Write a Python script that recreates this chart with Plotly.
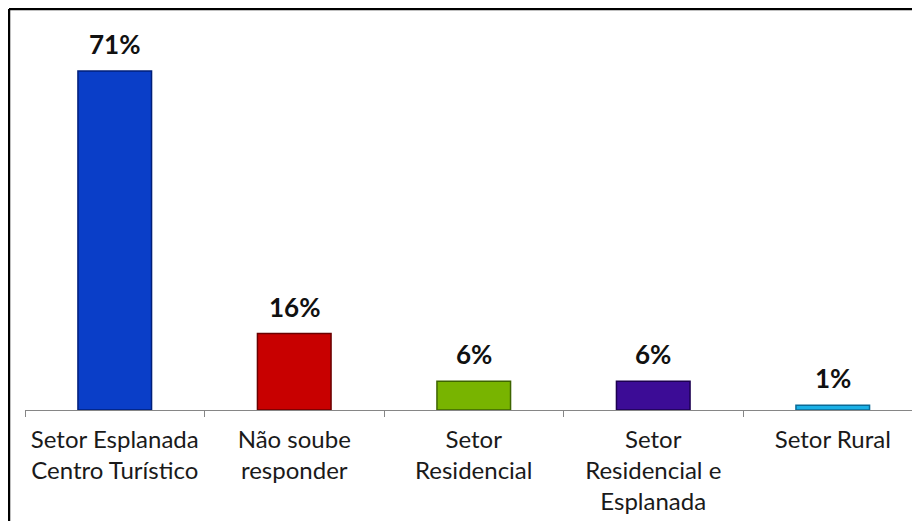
import plotly.graph_objects as go

categories = ["Setor Esplanada<br>Centro Turístico", "Não soube<br>responder", "Setor<br>Residencial",
              "Setor<br>Residencial e<br>Esplanada", "Setor Rural"]
values = [71, 16, 6, 6, 1]
labels = ["71%", "16%", "6%", "6%", "1%"]
fill_colors = ["#0a3ec8", "#c80000", "#78b400", "#3c0c96", "#1ab0e6"]
edge_colors = ["#001f7a", "#6a0000", "#3d6400", "#1c0050", "#0a6a96"]

# page body has an 8px margin; figure sized to fit the 920x521 window
W, H = 904, 513
L, R, T, B = 17, 0, 20, 111
SLOT = 179.5  # px per category in the reference

fig = go.Figure()
fig.add_trace(go.Bar(
    x=categories, y=values,
    marker=dict(color=fill_colors, line=dict(color=edge_colors, width=1.5)),
    width=0.41, hoverinfo="skip",
))
for c, v, t in zip(categories, values, labels):
    fig.add_annotation(x=c, y=v, text="<b>" + t + "</b>", showarrow=False,
                       yanchor="bottom", yshift=9,
                       font=dict(family="Lato, Open Sans, sans-serif", size=26, color="#111111"))

pw = W - L - R
ph = H - T - B
fx0 = (1 - L) / pw
fy1 = (H - B - 1) / ph
fig.add_shape(type="line", xref="paper", yref="paper", x0=fx0, x1=fx0, y0=-0.5, y1=fy1,
              line=dict(color="#000000", width=2.5), layer="above")
fig.add_shape(type="line", xref="paper", yref="paper", x0=fx0, x1=1.2, y0=fy1, y1=fy1,
              line=dict(color="#000000", width=2.5), layer="above")

fig.update_layout(
    width=W, height=H,
    margin=dict(l=L, r=R, t=T, b=B, pad=0),
    paper_bgcolor="white", plot_bgcolor="white",
    showlegend=False,
    xaxis=dict(type="category", showline=True, linecolor="#868686", linewidth=1,
               ticks="outside", tickson="boundaries", ticklen=6, tickcolor="#868686",
               showgrid=False, range=[-0.5, -0.5 + pw / SLOT], ticklabelstandoff=8,
               tickfont=dict(family="Lato, Open Sans, sans-serif", size=24, color="#1a1a1a")),
    yaxis=dict(range=[0, 80], visible=False, showgrid=False, zeroline=False),
)
fig.write_html("out.html")
